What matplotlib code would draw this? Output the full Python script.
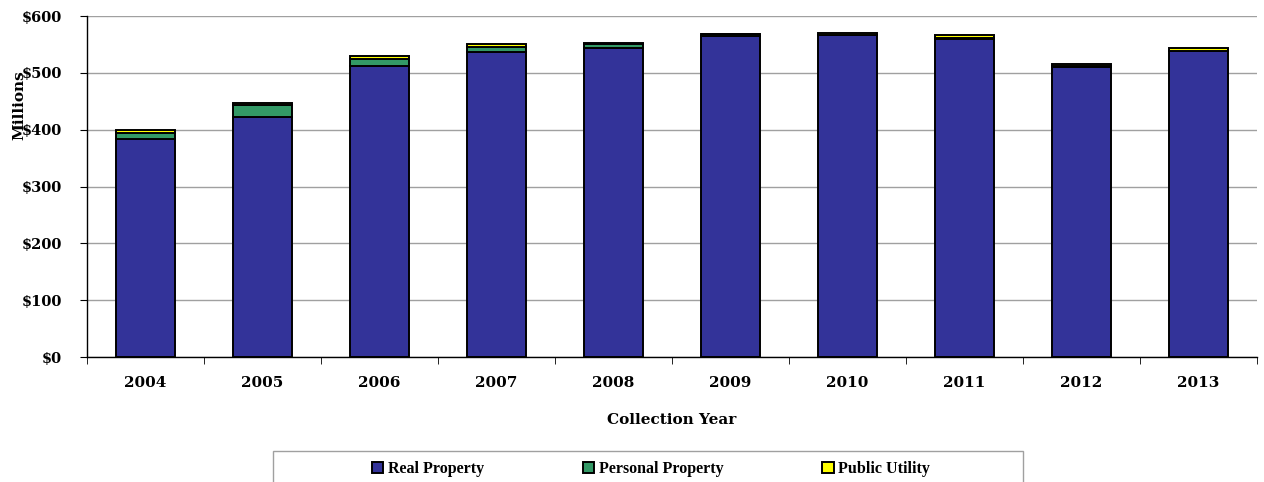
import numpy as np
import matplotlib.pyplot as plt
from matplotlib.patches import Rectangle
from matplotlib.ticker import FuncFormatter

# collection years and values in millions
years = ['2004', '2005', '2006', '2007', '2008', '2009', '2010', '2011', '2012', '2013']
real_property = [384, 423, 512, 537, 543, 565, 566, 560, 511, 538]
personal_property = [11, 20, 13, 9, 7, 3, 1, 1, 1, 1]
public_utility = [4, 4, 5, 5, 3, 1, 3, 5, 3, 4]

plt.rcParams['font.family'] = ['DejaVu Serif']
plt.rcParams['font.weight'] = 'bold'

fig = plt.figure(figsize=(12.64, 4.82), dpi=100)
ax = fig.add_axes([0.0688, 0.2593, 0.9257, 0.7075])

x = np.arange(len(years))
real = np.array(real_property)
pers = np.array(personal_property)
util = np.array(public_utility)

ax.bar(x, real, width=0.5, color='#333399', edgecolor='black', linewidth=1.4,
       label='Real Property', zorder=3)
ax.bar(x, pers, width=0.5, bottom=real, color='#339966', edgecolor='black',
       linewidth=1.4, label='Personal Property', zorder=3)
ax.bar(x, util, width=0.5, bottom=real + pers, color='#FFFF00', edgecolor='black',
       linewidth=1.4, label='Public Utility', zorder=3)

# axes setup
ax.set_xlim(-0.5, len(years) - 0.5)
ax.set_ylim(0, 600)
ax.set_yticks(range(0, 601, 100))
ax.yaxis.set_major_formatter(FuncFormatter(lambda v, p: '${:.0f}'.format(v)))
ax.grid(axis='y', color='#a0a0a0', linewidth=1, zorder=0)

ax.set_xticks(x)
ax.set_xticklabels(years)
ax.set_xticks(np.arange(-0.5, len(years)), minor=True)
ax.tick_params(axis='x', which='major', length=0, pad=14, labelsize=11)
ax.tick_params(axis='x', which='minor', length=5, direction='out')
ax.tick_params(axis='y', length=5, labelsize=10.5, pad=13)

for s in ['top', 'right']:
    ax.spines[s].set_visible(False)
ax.spines['left'].set_linewidth(1)
ax.spines['bottom'].set_linewidth(1)

ax.set_xlabel('Collection Year', fontsize=11, fontweight='bold', labelpad=16)
ax.text(-0.058, 0.74, 'Millions', transform=ax.transAxes, rotation=90,
        ha='center', va='center', fontsize=11, fontweight='bold')

# legend box (runs off the bottom edge like the original)
fig.patches.append(Rectangle((273 / 1264, -0.05), 750 / 1264, 0.05 + 31 / 482,
                             transform=fig.transFigure, facecolor='white',
                             edgecolor='#a0a0a0', linewidth=1))
leg = fig.legend(loc='center', bbox_to_anchor=(0.515, 13 / 482), ncol=3,
                 frameon=False,
                 prop={'family': 'Liberation Serif', 'weight': 'bold', 'size': 11.5},
                 handlelength=0.7, handleheight=0.7, handletextpad=0.3,
                 columnspacing=6.2)

fig.savefig('out.png', dpi=100)
